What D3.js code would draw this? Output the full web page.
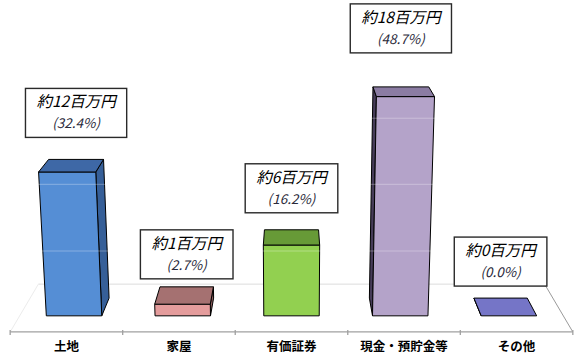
<!DOCTYPE html>
<html><head><meta charset="utf-8">
<script src="https://cdn.jsdelivr.net/npm/d3@7"></script>
<style>body{margin:0;background:#fff}svg{display:block}</style>
</head><body><svg id="c" width="580" height="360"></svg>
<script>
// ---- data ----
const categories = ["土地", "家屋", "有価証券", "現金・預貯金等", "その他"];
const values = [12, 1, 6, 18, 0];            // 百万円
const percents = [32.4, 2.7, 16.2, 48.7, 0.0];
const gridValues = [5.5, 11, 16.3];

// ---- styles / layout ----
const palette = [
  {front: "#558ed5", top: "#3e68a6", side: "#365f98"},
  {front: "#e49c9c", top: "#a57171", side: "#8a5a5a"},
  {front: "#92d050", top: "#679a37", side: "#56802c"},
  {front: "#b4a3c9", top: "#8b7ca3", side: "#463c58"},
  {front: "#7575c7", top: "#7575c7", side: "#5a5aa0"}
];
const labelLift = [22, 8, 17, 34, 12];
const FONT = "'Noto Sans CJK JP','Noto Sans',sans-serif";

const cam = {H: 36, D: 102, theta: 16 * Math.PI / 180, F: 1328, cx: 291.5, cy: 236};
const sn = Math.sin(cam.theta), cs = Math.cos(cam.theta);
function proj(X, Y, Z) {
  const ry = Y - cam.H, rz = Z + cam.D;
  const depth = -ry * sn + rz * cs;
  const up = ry * cs + rz * sn;
  return [cam.cx + cam.F * X / depth, cam.cy - cam.F * up / depth];
}

const X0 = -22.1, X1 = 22.1, ZF = -3.8, ZB = 8.3, BD = 4.5;
const x = d3.scaleBand().domain(categories).range([X0, X1]).paddingInner(0.49).paddingOuter(0.245);
const y = d3.scaleLinear().domain([0, 20]).range([0, 20]);

const svg = d3.select("#c");
const poly = pts => pts.map(p => proj(...p).join(",")).join(" ");

// floor
const gFloor = svg.append("g");
function seg(a, b, col, w) {
  const p = proj(...a), q = proj(...b);
  gFloor.append("line").attr("x1", p[0]).attr("y1", p[1]).attr("x2", q[0]).attr("y2", q[1])
    .attr("stroke", col).attr("stroke-width", w);
}
seg([X0, 0, ZB], [X1, 0, ZB], "#dcdcdc", 1);
seg([X0, 0, ZB], [X0, 0, ZF], "#ececec", 1);
seg([X1, 0, ZB], [X1, 0, ZF], "#9a9a9a", 1);

// bars
const bw = x.bandwidth();
const gBars = svg.append("g").attr("stroke", "#000").attr("stroke-width", 1).attr("stroke-linejoin", "round");
categories.forEach((c, i) => {
  const a = x(c), b = a + bw, h = y(values[i]), col = palette[i];
  const g = gBars.append("g");
  if (b < 0) g.append("polygon").attr("points", poly([[b,0,0],[b,0,BD],[b,h,BD],[b,h,0]])).attr("fill", col.side);
  if (a > 0) g.append("polygon").attr("points", poly([[a,0,0],[a,0,BD],[a,h,BD],[a,h,0]])).attr("fill", col.side);
  if (h > 0) g.append("polygon").attr("points", poly([[a,0,0],[b,0,0],[b,h,0],[a,h,0]])).attr("fill", col.front);
  g.append("polygon").attr("points", poly([[a,h,0],[b,h,0],[b,h,BD],[a,h,BD]])).attr("fill", col.top);
});

// faint gridlines showing over bars
svg.append("g").selectAll("line").data(gridValues).join("line")
  .attr("x1", d => proj(X0, y(d), 0)[0]).attr("x2", d => proj(X1, y(d), 0)[0])
  .attr("y1", d => proj(X0, y(d), 0)[1]).attr("y2", d => proj(X1, y(d), 0)[1])
  .attr("stroke", "#fff").attr("stroke-opacity", 0.3).attr("stroke-width", 1);

// axis
const axY = proj(0, 0, ZF)[1];
const xs = d3.scaleBand().domain(categories).range([proj(X0, 0, ZF)[0], proj(X1, 0, ZF)[0]]);
const gAx = svg.append("g").attr("transform", `translate(0,${axY})`)
  .call(d3.axisBottom(xs).tickSize(0).tickPadding(10));
gAx.select(".domain").remove();
gAx.selectAll("text").attr("font-family", FONT).attr("font-size", 12.5).attr("font-weight", 700).attr("fill", "#000");
gAx.append("line").attr("x1", xs.range()[0]).attr("x2", xs.range()[1]).attr("stroke", "#a0a0a0").attr("stroke-width", 1.3);
gAx.selectAll(".bnd").data(d3.range(categories.length + 1)).join("line")
  .attr("x1", i => xs.range()[0] + i * xs.step()).attr("x2", i => xs.range()[0] + i * xs.step())
  .attr("y1", -2).attr("y2", 3).attr("stroke", "#a0a0a0").attr("stroke-width", 1.3);

// value label boxes
categories.forEach((c, i) => {
  const mid = x(c) + bw / 2;
  const pt = proj(mid, y(values[i]), BD);
  const bottom = pt[1] - labelLift[i], top = bottom - 49;
  const g = svg.append("g");
  const rect = g.append("rect").attr("fill", "#fff").attr("stroke", "#2a2a2a").attr("stroke-width", 1.4);
  const t1 = g.append("text").attr("x", pt[0]).attr("y", top + 13.5).attr("dy", "0.36em")
    .attr("text-anchor", "middle").attr("font-family", FONT).attr("font-style", "italic")
    .attr("font-size", 15.5).attr("fill", "#000").text(`約${values[i]}百万円`);
  g.append("text").attr("x", pt[0]).attr("y", top + 35).attr("dy", "0.36em")
    .attr("text-anchor", "middle").attr("font-family", FONT).attr("font-style", "italic")
    .attr("font-size", 13.5).attr("fill", "#2a2a3a").text(`(${percents[i].toFixed(1)}%)`);
  const w = t1.node().getComputedTextLength() + 22;
  rect.attr("x", pt[0] - w / 2).attr("y", top).attr("width", w).attr("height", 49);
});
</script></body></html>
